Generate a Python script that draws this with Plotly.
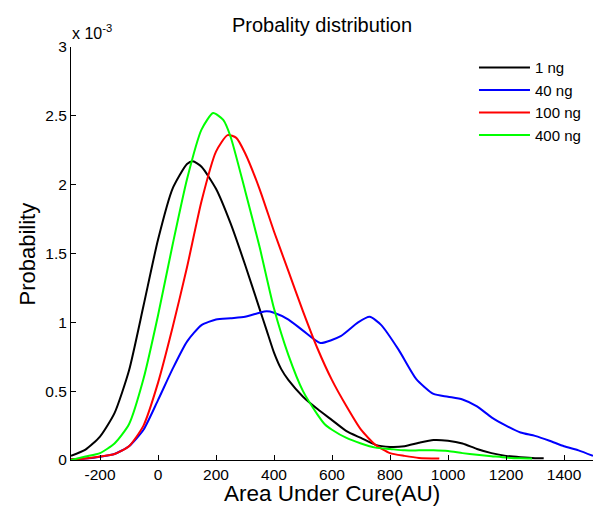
import plotly.graph_objects as go

# Data (probability in units of 1e-3)
black_x = [-300, -250, -200, -150, -100, -50, 0, 50, 100, 120, 150, 200, 250, 300, 350, 375, 400, 425, 450, 500,
           550, 600, 650, 700, 750, 800, 850, 900, 950, 1000, 1050, 1100, 1150, 1200, 1250, 1300, 1330]
black_y = [0.03, 0.075, 0.17, 0.34, 0.65, 1.12, 1.60, 1.97, 2.15, 2.17, 2.13, 1.97, 1.72, 1.42, 1.10, 0.94, 0.78, 0.66, 0.58, 0.46,
           0.37, 0.29, 0.21, 0.16, 0.11, 0.095, 0.10, 0.125, 0.145, 0.14, 0.12, 0.08, 0.05, 0.03, 0.02, 0.013, 0.012]

blue_x = [-300, -250, -200, -150, -100, -50, 0, 50, 100, 150, 200, 250, 300, 350, 375, 400, 450, 500, 560, 630,
          690, 730, 770, 830, 890, 950, 1000, 1050, 1100, 1150, 1200, 1250, 1300, 1350, 1400, 1450, 1500]
blue_y = [0.005, 0.01, 0.024, 0.044, 0.10, 0.22, 0.435, 0.66, 0.86, 0.98, 1.02, 1.03, 1.04, 1.07, 1.08, 1.07, 1.02, 0.94, 0.85, 0.90,
          1.00, 1.04, 0.98, 0.80, 0.59, 0.48, 0.46, 0.44, 0.39, 0.31, 0.25, 0.20, 0.175, 0.14, 0.10, 0.07, 0.03]

red_x = [-300, -250, -200, -150, -100, -50, 0, 50, 100, 150, 200, 240, 270, 300, 350, 400, 450, 500, 550, 600,
         650, 700, 750, 800, 850, 900, 970]
red_y = [0.005, 0.01, 0.025, 0.044, 0.10, 0.25, 0.56, 0.96, 1.40, 1.88, 2.24, 2.36, 2.34, 2.23, 1.97, 1.66, 1.37, 1.08, 0.81, 0.58,
         0.39, 0.22, 0.11, 0.05, 0.03, 0.015, 0.01]

green_x = [-300, -250, -200, -150, -100, -50, 0, 50, 100, 150, 190, 225, 250, 300, 350, 400, 450, 500, 550, 575,
           600, 650, 700, 750, 800, 850, 900, 950, 1000, 1050, 1100, 1150, 1200, 1250, 1290]
green_y = [0.0, 0.025, 0.05, 0.12, 0.26, 0.59, 1.05, 1.56, 2.04, 2.40, 2.52, 2.47, 2.35, 1.96, 1.55, 1.10, 0.76, 0.50, 0.33, 0.26,
           0.22, 0.16, 0.12, 0.09, 0.08, 0.07, 0.07, 0.07, 0.065, 0.05, 0.038, 0.028, 0.018, 0.012, 0.01]

series_names = ["1 ng", "40 ng", "100 ng", "400 ng"]
series_colors = ["#000000", "#0000ff", "#ff0000", "#00ff00"]

x_tickvals = [-200, 0, 200, 400, 600, 800, 1000, 1200, 1400]
x_ticktext = ["-200", "0", "200", "400", "600", "800", "1000", "1200", "1400"]
y_tickvals = [0, 0.5, 1, 1.5, 2, 2.5, 3]
y_ticktext = ["0", "0.5", "1", "1.5", "2", "2.5", "3"]

FONT = "Liberation Sans, Arial, sans-serif"

fig = go.Figure()
for xs, ys, name, color in zip([black_x, blue_x, red_x, green_x],
                               [black_y, blue_y, red_y, green_y],
                               series_names, series_colors):
    fig.add_trace(go.Scatter(x=xs, y=ys, mode="lines", name=name,
                             line=dict(color=color, width=2, shape="spline", smoothing=0.6)))

fig.update_layout(
    width=594, height=510,
    margin=dict(l=71, r=1, t=47, b=50, autoexpand=False),
    paper_bgcolor="white", plot_bgcolor="white",
    font=dict(family=FONT, size=15, color="black"),
    showlegend=True,
    legend=dict(x=0.772, y=0.99, xanchor="left", yanchor="top",
                bgcolor="rgba(0,0,0,0)", font=dict(size=15, family=FONT),
                tracegroupgap=0, itemwidth=51),
    xaxis=dict(range=[-300, 1500], tickvals=x_tickvals, ticktext=x_ticktext, automargin=False,
               ticks="inside", ticklen=5, tickcolor="black", showgrid=False, zeroline=False,
               showline=True, linecolor="black", linewidth=1,
               tickfont=dict(size=15.5, family=FONT)),
    yaxis=dict(range=[0, 3], tickvals=y_tickvals, ticktext=y_ticktext, automargin=False,
               ticks="inside", ticklen=5, tickcolor="black", showgrid=False, zeroline=False,
               showline=True, linecolor="black", linewidth=1,
               tickfont=dict(size=15.5, family=FONT)),
    annotations=[
        dict(text="Probality distribution", xref="paper", yref="paper", x=0.481, y=1.053,
             xanchor="center", yanchor="middle", showarrow=False, font=dict(size=20, family=FONT)),
        dict(text="x 10<sup>-3</sup>", xref="paper", yref="paper", x=-0.002, y=1.037,
             xanchor="left", yanchor="middle", showarrow=False, font=dict(size=16, family=FONT)),
        dict(text="Probability", xref="paper", yref="paper", x=-0.0824, y=0.5, textangle=-90,
             xanchor="center", yanchor="middle", showarrow=False, font=dict(size=22, family=FONT)),
        dict(text="Area Under Cure(AU)", xref="paper", yref="paper", x=0.5, y=-0.082,
             xanchor="center", yanchor="middle", showarrow=False, font=dict(size=22.5, family=FONT)),
    ],
)

fig.write_html("out.html",
               config={"displayModeBar": False},
               post_script="document.body.style.margin='0';document.body.style.overflow='hidden';")
